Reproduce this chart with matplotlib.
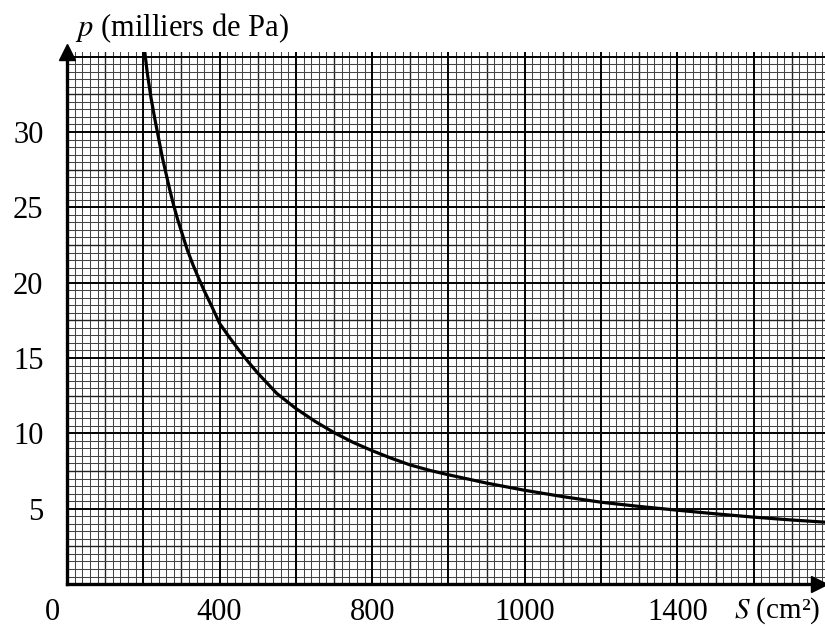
import matplotlib.pyplot as plt
import numpy as np
from matplotlib.transforms import blended_transform_factory

plt.rcParams['font.family'] = ['Liberation Serif', 'DejaVu Serif']
plt.rcParams['mathtext.fontset'] = 'stix'

# surface S (cm²) et pression p (milliers de Pa)
S = [204, 210, 220, 230, 240, 250, 260, 270, 280, 290, 300, 315, 330, 345,
     360, 380, 400, 425, 450, 475, 500, 550, 600, 650, 700, 750, 800, 850,
     900, 950, 1000, 1100, 1200, 1300, 1400, 1500, 1600, 1700, 1800, 1900, 1990]
p = [35.3, 34.0, 32.3, 30.9, 29.6, 28.3, 27.2, 26.1, 25.1, 24.2, 23.4, 22.2,
     21.2, 20.3, 19.45, 18.4, 17.3, 16.4, 15.55, 14.75, 14.0, 12.65, 11.65,
     10.8, 10.05, 9.4, 8.85, 8.35, 7.9, 7.55, 7.25, 6.7, 6.22, 5.8, 5.43,
     5.15, 4.9, 4.66, 4.44, 4.25, 4.1]

x_pos = [0, 400, 800, 1200, 1600]
x_txt = ['0', '400', '800', '1000', '1400']
y_pos = [5, 10, 15, 20, 25, 30]

xmax, ymax = 1987, 35.3

fig = plt.figure(figsize=(8.25, 6.28), dpi=100)
ax = fig.add_axes([0.0812, 0.070, 0.9188, 0.847])
ax.set_xlim(0, xmax)
ax.set_ylim(0, ymax)

# papier millimétré
for v in np.arange(20, xmax, 20):
    if v % 200 == 0:
        ax.axvline(v, color='black', lw=1.4, zorder=2)
    elif v % 100 == 0:
        ax.axvline(v, color='#222222', lw=1.0, zorder=1)
    else:
        ax.axvline(v, color='#444444', lw=0.75, zorder=1)
for v in np.arange(0.5, ymax, 0.5):
    if abs(v % 5) < 1e-6:
        ax.axhline(v, color='black', lw=1.4, zorder=2)
    elif abs(v % 2.5) < 1e-6:
        ax.axhline(v, color='#222222', lw=1.0, zorder=1)
    else:
        ax.axhline(v, color='#444444', lw=0.75, zorder=1)

ax.plot(S, p, color='black', lw=2.3, zorder=4, solid_joinstyle='round')

for s in ['top', 'right']:
    ax.spines[s].set_visible(False)
for s in ['left', 'bottom']:
    ax.spines[s].set_linewidth(2.4)
    ax.spines[s].set_zorder(5)

ax.plot(0, ymax, marker='^', color='black', ms=11, clip_on=False, zorder=6)
ax.plot(xmax - 15, 0, marker='>', color='black', ms=11, clip_on=False, zorder=6)

ax.set_xticks([])
ax.set_yticks(y_pos)
ax.set_yticklabels([str(v) for v in y_pos], fontsize=22)
ax.tick_params(axis='y', length=0, pad=17)

tr = blended_transform_factory(ax.transData, ax.transAxes)
for xv, t in zip(x_pos, x_txt):
    off = -37 if xv == 0 else 0
    ax.text(xv + off, -0.054, t, transform=tr, ha='center', va='center', fontsize=22)
ax.text(0.994, -0.05, r'$S$ (cm²)', transform=ax.transAxes, ha='right', va='center', fontsize=21)
fig.text(75 / 825, 1 - 28 / 628, r'$p$ (milliers de Pa)', ha='left', va='center', fontsize=22)

fig.savefig('out.png', dpi=100)
